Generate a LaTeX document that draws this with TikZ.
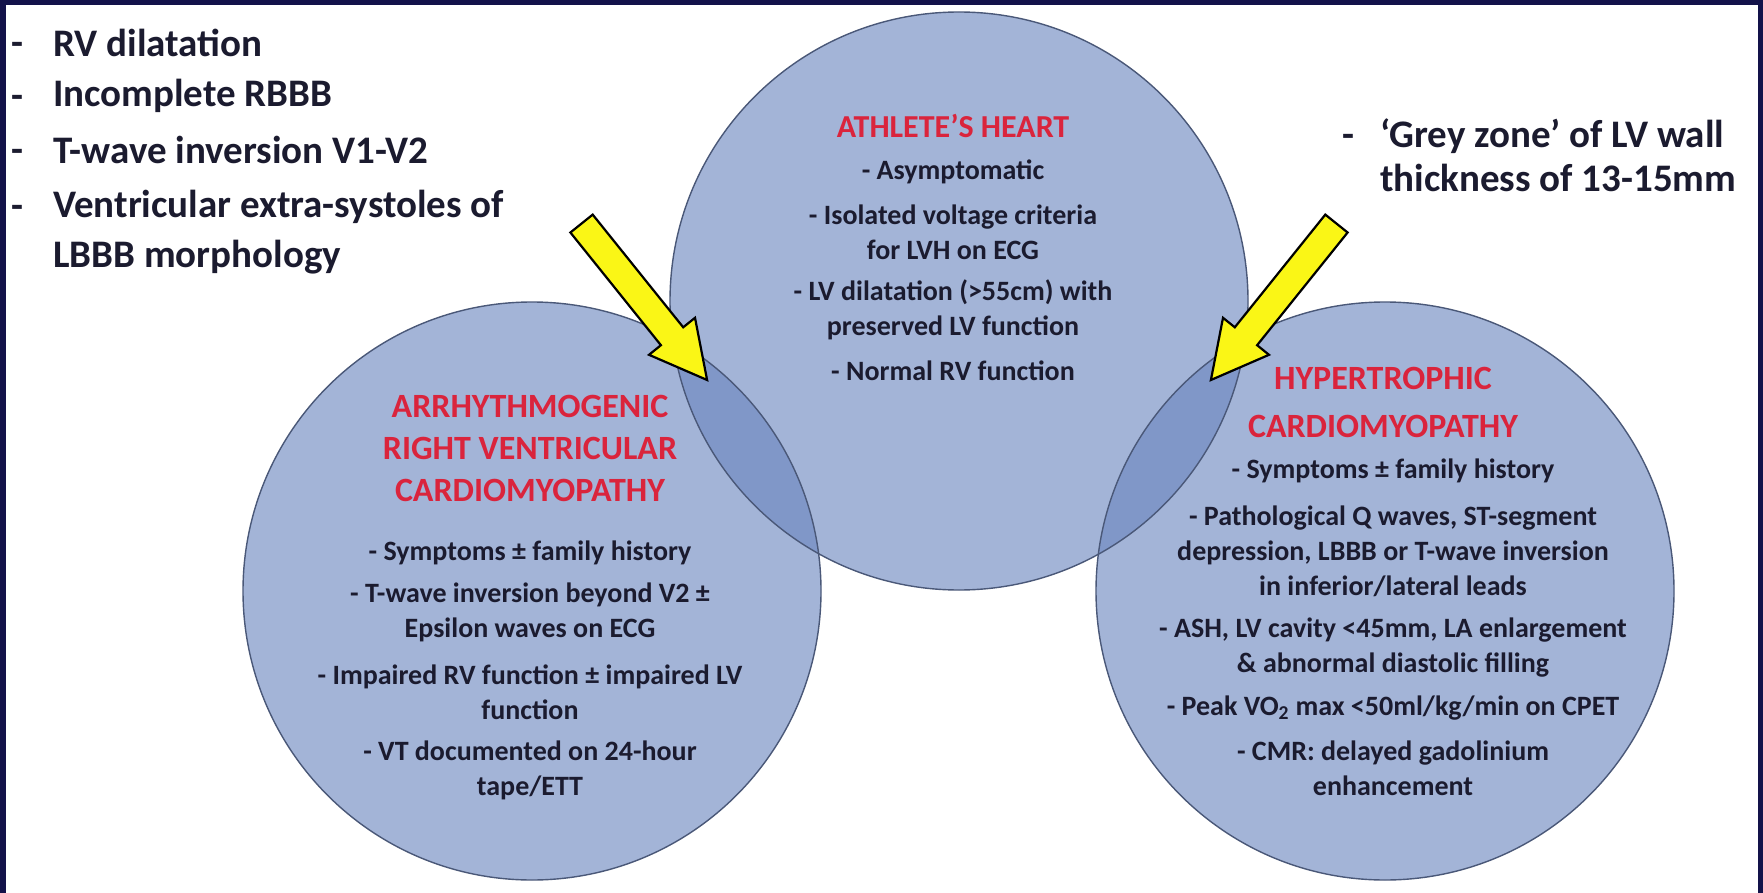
\documentclass[tikz,border=0pt]{standalone}
\usepackage{fontspec}
\setmainfont{Carlito}
\definecolor{navy}{RGB}{19,18,74}
\definecolor{titlec}{RGB}{218,36,60}
\definecolor{bodyc}{RGB}{27,27,47}
\definecolor{vennc}{RGB}{107,134,192}
\definecolor{edgec}{RGB}{74,88,120}
\definecolor{arrowc}{RGB}{250,246,22}
\begin{document}
\begin{tikzpicture}[x=1pt,y=-1pt,
  txt/.style={inner sep=0pt, text=bodyc, font=\bfseries\fontsize{28}{35}\selectfont, align=center},
  ttl/.style={inner sep=0pt, text=titlec, font=\bfseries\fontsize{34}{42}\selectfont, align=center},
  lst/.style={inner sep=0pt, text=bodyc, font=\bfseries\fontsize{39}{50}\selectfont, align=left, anchor=west},
  dsh/.style={inner sep=0pt, text=bodyc, font=\bfseries\fontsize{39}{50}\selectfont, anchor=base west},
  venn/.style={circle, inner sep=0pt, outer sep=0pt, minimum size=578pt, fill=vennc, fill opacity=0.62},
  vennline/.style={draw=edgec, line width=1.4pt},
  yarrow/.style={fill=arrowc, draw=black, line width=2.2pt, line join=miter}
]
\useasboundingbox (0,0) rectangle (1763,893);
\fill[navy] (0,0) rectangle (1763,893);
\fill[white] (6,5) rectangle (1758,893);

% circles
\node[venn] (heart) at (959,301) {};
\node[venn] (arvc) at (532,591) {};
\node[venn] (hcm) at (1385,591) {};
\draw[vennline] (heart.center) circle[radius=289pt];
\draw[vennline] (arvc.center) circle[radius=289pt];
\draw[vennline] (hcm.center) circle[radius=289pt];

% arrows
\filldraw[yarrow] (592.7,214.6) -- (683.2,327.3) -- (695.0,317.8) -- (707.1,380.0)
  -- (649.0,354.8) -- (660.9,345.2) -- (570.4,232.5) -- cycle;
\filldraw[yarrow] (1325.3,214.6) -- (1234.8,327.3) -- (1223.0,317.8) -- (1210.9,380.0)
  -- (1269.0,354.8) -- (1257.1,345.2) -- (1347.6,232.5) -- cycle;

% top-left list
\node[dsh] (d1) at (11,56) {-};
\node[lst] (t1) at (53,43) {RV dilatation};
\node[dsh] (d2) at (11,109) {-};
\node[lst] (t2) at (53,96) {Incomplete RBBB};
\node[dsh] (d3) at (11,163) {-};
\node[lst] (t3) at (53,150) {T-wave inversion V1-V2};
\node[dsh] (d4) at (11,219) {-};
\node[lst, anchor=north west] (t4) at (53,190) {Ventricular extra-systoles of\\LBBB morphology};

% top-right note
\node[dsh] (d5) at (1342,148) {-};
\node[lst, anchor=north west, font=\bfseries\fontsize{39}{44}\selectfont] (t5) at (1380,119) {‘Grey zone’ of LV wall\\thickness of 13-15mm};

% athlete's heart
\node[ttl, font=\bfseries\fontsize{32}{42}\selectfont] (ah) at (953,126) {ATHLETE’S HEART};
\node[txt] (a1) at (953,172) {- Asymptomatic};
\node[txt] (a2) at (953,232) {- Isolated voltage criteria\\for LVH on ECG};
\node[txt] (a3) at (953,310) {- LV dilatation (>55cm) with\\preserved LV function};
\node[txt] (a4) at (953,371) {- Normal RV function};

% ARVC
\node[ttl] (at) at (530,448) {ARRHYTHMOGENIC\\RIGHT VENTRICULAR\\CARDIOMYOPATHY};
\node[txt] (l1) at (530,553) {- Symptoms ± family history};
\node[txt] (l2) at (530,612) {- T-wave inversion beyond V2 ±\\Epsilon waves on ECG};
\node[txt] (l3) at (530,692) {- Impaired RV function ± impaired LV\\function};
\node[txt] (l4) at (530,770) {- VT documented on 24-hour\\tape/ETT};

% HCM
\node[ttl, font=\bfseries\fontsize{34}{48}\selectfont] (rt) at (1383,402) {HYPERTROPHIC\\CARDIOMYOPATHY};
\node[txt] (r1) at (1393,471) {- Symptoms ± family history};
\node[txt] (r2) at (1393,551) {- Pathological Q waves, ST-segment\\depression, LBBB or T-wave inversion\\in inferior/lateral leads};
\node[txt] (r3) at (1393,648) {- ASH, LV cavity <45mm, LA enlargement\\\& abnormal diastolic filling};
\node[txt] (r4) at (1393,708) {- Peak VO\textsubscript{2} max <50ml/kg/min on CPET};
\node[txt] (r5) at (1393,768) {- CMR: delayed gadolinium\\enhancement};
\end{tikzpicture}
\end{document}
